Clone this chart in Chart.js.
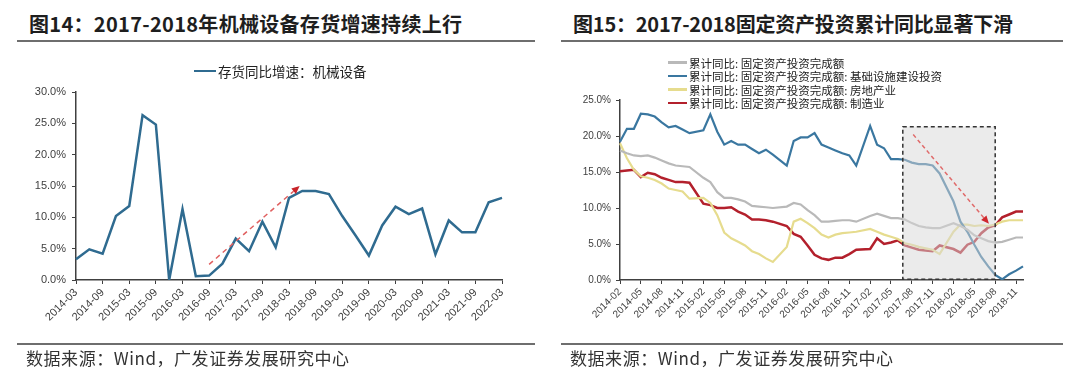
<!DOCTYPE html>
<html><head><meta charset="utf-8">
<script src="https://cdn.jsdelivr.net/npm/chart.js@4.4.1/dist/chart.umd.min.js"></script>
<style>
html,body{margin:0;padding:0;background:#fff;}
#page{position:relative;width:1080px;height:381px;overflow:hidden;background:#fff;font-family:"Noto Sans CJK SC","Noto Sans",sans-serif;}
.title{position:absolute;top:10px;font-size:20px;font-weight:700;color:#1e1e1e;white-space:nowrap;line-height:28px;}
.rule{position:absolute;height:2px;background:#6e6e6e;}
.src{position:absolute;top:347px;font-size:17px;color:#333;white-space:nowrap;line-height:22px;}
canvas{position:absolute;top:0;}
.lg{position:absolute;white-space:nowrap;color:#222;display:flex;align-items:center;}
.lg i{display:inline-block;margin-right:2px;}
</style></head>
<body><div id="page">
<div class="title" id="t1" style="left:29px">图14：2017-2018年机械设备存货增速持续上行</div>
<div class="rule" style="left:17px;width:518px;top:40px"></div>
<div class="title" id="t2" style="left:573px">图15：2017-2018固定资产投资累计同比显著下滑</div>
<div class="rule" style="left:561px;width:502px;top:40px"></div>
<canvas id="c1" width="540" height="381" style="left:0"></canvas>
<canvas id="c2" width="540" height="381" style="left:540px"></canvas>
<div class="rule" style="left:17px;width:518px;top:343px"></div>
<div class="rule" style="left:561px;width:502px;top:343px"></div>
<div class="src" id="s1" style="left:26px">数据来源：Wind，广发证券发展研究中心</div>
<div class="src" id="s2" style="left:570px">数据来源：Wind，广发证券发展研究中心</div>
</div>
<script>
// ---------- Data: chart 14 (quarterly) ----------
const invLabels = ['2014-03','2014-06','2014-09','2014-12','2015-03','2015-06','2015-09','2015-12',
  '2016-03','2016-06','2016-09','2016-12','2017-03','2017-06','2017-09','2017-12',
  '2018-03','2018-06','2018-09','2018-12','2019-03','2019-06','2019-09','2019-12',
  '2020-03','2020-06','2020-09','2020-12','2021-03','2021-06','2021-09','2021-12','2022-03'];
const invName = '存货同比增速：机械设备';
const invValues = [3.3,4.9,4.2,10.2,11.8,26.3,24.8,0.0,
  11.3,0.6,0.7,2.6,6.6,4.6,9.3,5.2,
  13.1,14.2,14.2,13.7,10.2,7.1,3.9,8.7,
  11.7,10.5,11.4,4.1,9.5,7.6,7.6,12.4,13.1];

// ---------- Data: chart 15 (monthly, January not published) ----------
const faiLabels = [];
for (let y = 2014; y <= 2018; y++) for (let m = 1; m <= 12; m++) {
  if (y === 2014 && m < 2) continue;
  faiLabels.push(y + '-' + String(m).padStart(2,'0'));
}
const faiNames = ['累计同比: 固定资产投资完成额','累计同比: 固定资产投资完成额: 基础设施建设投资',
  '累计同比: 固定资产投资完成额: 房地产业','累计同比: 固定资产投资完成额: 制造业'];
const faiTotal = [18.0,17.6,17.3,17.2,17.3,17.0,16.6,16.2,15.9,15.8,15.7, null,
  14.2,13.6,12.2,11.4,11.4,11.2,10.9,10.3,10.2,10.1,10.0, null,
  10.2,10.7,10.5,9.7,9.0,8.1,8.1,8.2,8.3,8.3,8.1, null,
  8.9,9.2,8.9,8.6,8.6,8.4,7.9,7.5,7.3,7.2,7.2, null,
  7.9,7.5,7.0,6.2,5.8,5.4,5.2,5.3,5.6,5.9,5.9];
const faiInfra = [19.2,21.0,21.0,23.1,23.0,22.7,21.9,21.2,21.4,20.9,20.4, null,
  20.8,23.0,20.6,18.8,19.3,18.8,18.8,18.2,17.6,18.1,17.4, null,
  15.9,19.3,19.8,19.8,20.4,18.8,18.4,18.0,17.6,17.3,15.9, null,
  21.4,18.8,18.3,16.8,16.8,16.7,16.3,16.1,16.1,15.9,14.8, null,
  10.9,8.1,6.7,4.9,3.2,1.9,0.7,0.1,0.8,1.3,1.9];
const faiRealty = [19.0,16.9,15.3,14.4,14.2,13.9,13.4,12.7,12.5,12.3,11.3, null,
  11.4,10.7,9.0,6.6,5.8,5.3,4.8,4.0,3.6,3.0,2.5, null,
  4.6,8.1,8.5,7.9,7.2,6.3,5.9,6.3,6.5,6.6,6.7, null,
  7.1,6.7,6.3,6.0,5.7,5.1,4.9,4.6,4.4,4.2,3.6, null,
  6.7,7.7,7.7,7.5,7.6,7.5,7.7,8.1,8.3,8.3,8.3];
const faiMfg = [15.1,15.2,15.3,14.3,14.9,14.7,14.2,13.9,13.6,13.6,13.5, null,
  10.6,10.4,10.0,10.0,10.1,9.5,9.1,8.4,8.4,8.3,8.1, null,
  7.5,6.4,6.0,4.8,3.5,3.0,2.8,3.1,3.1,3.6,4.2, null,
  4.3,5.8,5.0,5.2,5.5,4.8,4.5,4.2,4.1,4.0,4.8, null,
  4.3,3.8,4.9,5.3,6.5,7.3,7.6,8.7,9.1,9.5,9.5];

const FONT = '"Liberation Sans", Arial, sans-serif';
const AX = '#404040';

const overlay = {
  id: 'overlay',
  afterDatasetsDraw(chart, args, o) {
    const {ctx} = chart, xs = chart.scales.x, ys = chart.scales.y;
    ctx.save();
    if (o.box) {
      const b = o.box;
      const x0 = xs.getPixelForValue(b.x0), x1 = xs.getPixelForValue(b.x1);
      const y0 = ys.getPixelForValue(b.y0), y1 = ys.getPixelForValue(b.y1);
      ctx.fillStyle = b.fill; ctx.fillRect(x0, y1, x1 - x0, y0 - y1);
      ctx.setLineDash(b.dash); ctx.lineWidth = b.width; ctx.strokeStyle = b.color;
      ctx.strokeRect(x0, y1, x1 - x0, y0 - y1);
    }
    if (o.arrow) {
      const a = o.arrow;
      const xa = xs.getPixelForValue(a.x0), ya = ys.getPixelForValue(a.y0);
      const xb = xs.getPixelForValue(a.x1), yb = ys.getPixelForValue(a.y1);
      const ang = Math.atan2(yb - ya, xb - xa);
      const bx = xb - a.head * Math.cos(ang), by = yb - a.head * Math.sin(ang);
      ctx.setLineDash(a.dash); ctx.lineWidth = a.width; ctx.strokeStyle = a.color;
      ctx.beginPath(); ctx.moveTo(xa, ya); ctx.lineTo(bx, by); ctx.stroke();
      ctx.setLineDash([]); ctx.fillStyle = a.headColor;
      ctx.beginPath(); ctx.moveTo(xb, yb);
      ctx.lineTo(bx + a.headWidth / 2 * Math.sin(ang), by - a.headWidth / 2 * Math.cos(ang));
      ctx.lineTo(bx - a.headWidth / 2 * Math.sin(ang), by + a.headWidth / 2 * Math.cos(ang));
      ctx.closePath(); ctx.fill();
    }
    ctx.restore();
  }
};

function axes(labels, every, ymax, fs, tickPad, yw) {
  return {
    x: {
      type: 'category', offset: false,
      grid: {display: true, drawOnChartArea: false, drawTicks: true, tickLength: 4, color: AX, tickWidth: 1},
      border: {display: true, color: AX, width: 1.5},
      ticks: {autoSkip: false, minRotation: 45, maxRotation: 45, padding: 2, color: AX,
        font: {family: FONT, size: fs},
        callback: (v, i) => (i % every === 0 ? labels[i] : null)},
      afterFit: s => { s.height = 60; s.paddingLeft = 0; s.paddingRight = 0; }
    },
    y: {
      min: 0, max: ymax,
      grid: {display: true, drawOnChartArea: false, drawTicks: true, tickLength: 4, color: AX, tickWidth: 1},
      border: {display: true, color: AX, width: 1.5},
      ticks: {stepSize: 5, padding: tickPad, color: AX, font: {family: FONT, size: fs},
        callback: v => v.toFixed(1) + '%'},
      afterFit: s => { s.width = yw; }
    }
  };
}

const c1 = new Chart(document.getElementById('c1'), {
  type: 'line',
  data: {labels: invLabels, datasets: [{label: invName, data: invValues, borderColor: '#2f6b90',
    borderWidth: 2.5, pointRadius: 0, tension: 0, fill: false}]},
  options: {
    responsive: false, animation: false, events: [],
    layout: {padding: {left: 26, right: 38, top: 92, bottom: 41}},
    plugins: {legend: {display: false}, tooltip: {enabled: false},
      overlay: {arrow: {x0: 10, y0: 2.5, x1: 16.8, y1: 15.0, dash: [5, 4], width: 1.5,
        color: '#e06060', headColor: '#c8242a', head: 8, headWidth: 7}}},
    scales: axes(invLabels, 2, 30, 11, 6, 50)
  },
  plugins: [overlay]
});

const faiColors = ['#b9b9b9', '#3a77a0', '#e6dc8e', '#b3202c'];
const faiSeries = [faiTotal, faiInfra, faiRealty, faiMfg];
const c2 = new Chart(document.getElementById('c2'), {
  type: 'line',
  data: {labels: faiLabels, datasets: faiSeries.map((d, k) => ({label: faiNames[k], data: d,
    borderColor: faiColors[k], borderWidth: k === 3 ? 2.5 : 2.2, pointRadius: 0, tension: 0,
    spanGaps: true, fill: false}))},
  options: {
    responsive: false, animation: false, events: [],
    layout: {padding: {left: 30, right: 57, top: 100, bottom: 41}},
    plugins: {legend: {display: false}, tooltip: {enabled: false},
      overlay: {
        box: {x0: 40.7, x1: 54, y0: 0.1, y1: 21.3, fill: 'rgba(215,215,215,0.5)',
          dash: [4, 3], width: 1.5, color: '#333'},
        arrow: {x0: 42.2, y0: 20.2, x1: 53.1, y1: 7.8, dash: [4, 3], width: 1.5,
          color: '#e06a6a', headColor: '#d0282e', head: 8, headWidth: 7}}},
    scales: axes(faiLabels, 3, 25, 10, 5, 50)
  },
  plugins: [overlay]
});

// legends (HTML, built from dataset names/colours)
function legendRow(parent, x, y, color, text, fs, lw, w) {
  const d = document.createElement('div'); d.className = 'lg';
  d.style.left = x + 'px'; d.style.top = (y - 10) + 'px'; d.style.height = '20px'; d.style.fontSize = fs + 'px';
  d.innerHTML = '<i style="width:' + w + 'px;height:' + lw + 'px;background:' + color + '"></i>';
  d.appendChild(document.createTextNode(text));
  parent.appendChild(d);
}
const page = document.getElementById('page');
legendRow(page, 194, 71, '#2f6b90', invName, 13.5, 2.5, 22);
faiNames.forEach((n, k) => legendRow(page, 668, 62.7 + k * 13.4, faiColors[k], n, 11.5, 2.5, 19));

// fit titles / sources to reference widths
function fit(id, w) {
  const el = document.getElementById(id);
  const r = el.getBoundingClientRect().width, n = el.textContent.length;
  el.style.letterSpacing = ((w - r) / (n - 1)) + 'px';
}
fit('t1', 433); fit('t2', 440); fit('s1', 323); fit('s2', 323);
</script>
</body></html>
